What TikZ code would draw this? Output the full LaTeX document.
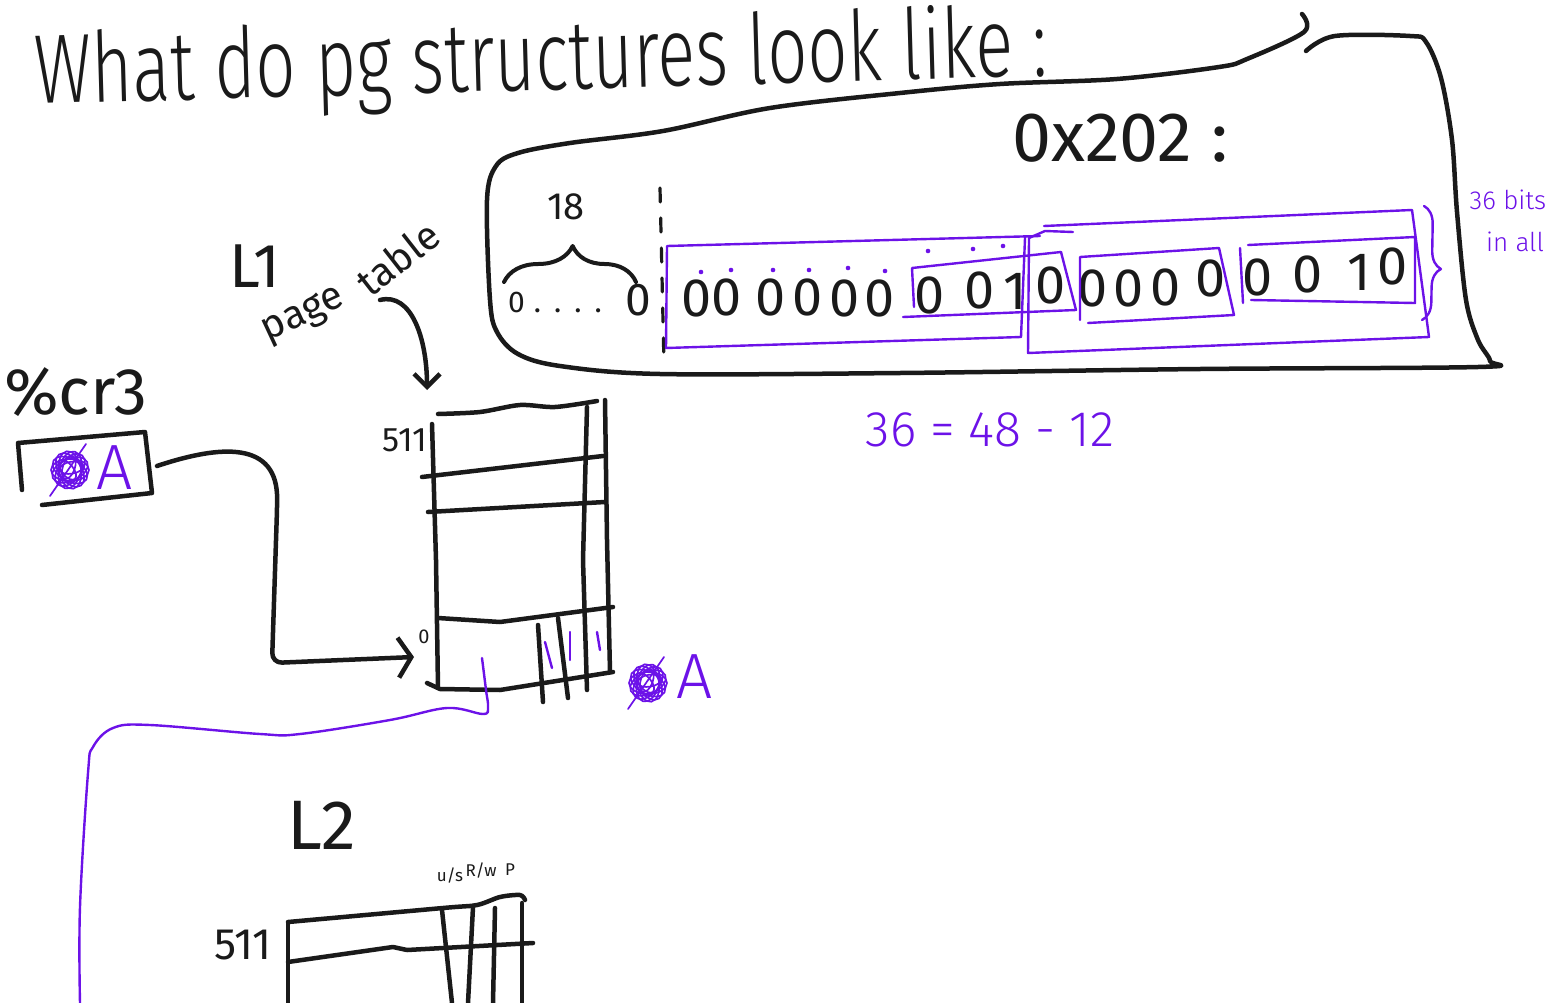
\documentclass[tikz,border=0pt]{standalone}
\usepackage{fontspec}
\setmainfont{Fira Sans}
\newfontfamily\thinhand{Fira Sans Light}
\usetikzlibrary{arrows.meta,decorations.pathreplacing}
\definecolor{ink}{RGB}{26,26,26}
\definecolor{pen}{RGB}{108,18,232}
\tikzset{
  inkline/.style={draw=ink,line width=4.5pt,line cap=round,line join=round},
  penline/.style={draw=pen,line width=2.4pt,line cap=round,line join=round},
  hand/.style={text=ink,inner sep=0pt,font=\fontsize{#1}{#1}\selectfont},
  penhand/.style={text=pen,inner sep=0pt,font=\thinhand\fontsize{#1}{#1}\selectfont},
  bit/.style={hand=54},
  pendot/.style={fill=pen,draw=none},
  barb/.style={-{Straight Barb[length=13pt,width=#1]}},
}
\newcommand{\scrawl}[1]{%
  \begin{scope}[shift={(#1)}]
  \foreach \a in {0,25,...,160}
    \draw[penline,line width=1.7pt,rotate=\a] (0,0) ellipse (19 and 11);
  \foreach \a in {10,70,130}
    \draw[penline,line width=1.7pt,rotate=\a] (2,-2) ellipse (12 and 6);
  \draw[penline,line width=1.7pt] (-20,26) -- (16,-26);
  \end{scope}}

\begin{document}
\begin{tikzpicture}[x=1pt,y=-1pt]
\useasboundingbox (0,0) rectangle (1554,1003);

\node[anchor=base west,text=ink,inner sep=0pt,rotate=1.6,font=\thinhand\fontsize{98}{98}\selectfont] (title) at (35,104)
  {\scalebox{0.72}[1]{What do pg structures look like :}};

% the box round the address
\draw[inkline] plot[smooth,tension=0.55] coordinates {(1302,14) (1304,32) (1247,59) (1219,67) (1117,79)
  (1000,84) (900,93) (770,108) (663,131) (570,143) (518,153) (496,166) (487,200) (490,300) (497,332)
  (518,354) (560,366) (660,374) (900,373) (1200,369) (1478,367) (1490,361) (1478,340) (1466,300)
  (1457,212) (1452,140) (1441,78) (1426,42) (1410,36) (1335,36) (1306,51)};
\node[hand=70,anchor=base west] (addr) at (1012,162) {0x202 :};

\node[hand=38] (eighteen) at (566,207) {18};
\draw[inkline,line width=4pt,decorate,decoration={brace,amplitude=36pt,aspect=0.52}] (504,282) -- (636,282);
\node[hand=30,anchor=base west] (lead) at (508,312) {0\hspace{9pt}.\hspace{13pt}.\hspace{13pt}.\hspace{13pt}.};
\node[hand=46] (leadend) at (638,300) {0};
\draw[inkline,line width=3.2pt,dash pattern=on 14pt off 16pt] (660,188) -- (664,365);

\foreach \x/\y/\d in {697/298/0,727/297/0,771/297/0,808/297/0,845/298/0,880/298/0,
  930/295/0,980/290/0,1015/291/1,1051/285/0,1093/288/0,1129/288/0,1166/287/0,1211/278/0,
  1258/277/0,1308/274/0,1359/272/1,1393/266/0}
  \node[bit] at (\x,\y) {\d};
\foreach \x/\y in {701/272,731/270,773/270,809/270,848/268,885/271,928/251,973/249,1003/246}
  \fill[pendot] (\x,\y) circle (2.3);

\draw[penline] (1040,236) -- (667,246) -- (666,348) -- (1021,337) -- (1025,238);
\draw[penline] (1061,252) -- (912,268) -- (914,307);
\draw[penline] (1061,252) -- (1076,310) -- (903,317);
\draw[penline] (1073,232) -- (1045,231) -- (1029,238) -- (1028,353) -- (1429,337) -- (1412,210) -- (1044,226);
\draw[penline] (1080,320) -- (1080,257) -- (1219,248) -- (1234,315) -- (1088,323);
\draw[penline] (1240,248) -- (1243,303);
\draw[penline] (1248,245) -- (1415,237) -- (1415,303) -- (1251,300);
\draw[penline,decorate,decoration={brace,amplitude=18pt,aspect=0.55}] (1424,206) -- (1422,320);
\node[penhand=26] (bits) at (1508,200) {36 bits};
\node[penhand=26] (inall) at (1515,242) {in all};
\node[penhand=50] (sum) at (990,430) {36 = 48 - 12};

% cr3
\node[hand=66,anchor=base west] (cr) at (4,414) {\%cr3};
\draw[inkline] (22,490) -- (18,443) -- (145,432) -- (152,493) -- (42,505);
\scrawl{70,470}
\node[penhand=64] (crA) at (115,468) {A};
\coordinate (crout) at (157,466);

% L1
\node[hand=62] (lone) at (255,266) {L1};
\node[hand=40,rotate=25] (pg) at (304,316) {page};
\node[hand=40,rotate=38] (tab) at (398,258) {table};
\coordinate (tabtop) at (427,390);
\draw[inkline,barb=26pt] (380,300) .. controls (412,292) and (427,340) .. (tabtop);
\node[hand=34] (lhi) at (405,440) {511};
\node[hand=20] (llo) at (424,637) {0};
\draw[inkline] plot[smooth] coordinates {(438,414) (480,412) (520,405) (555,407) (597,401)};
\draw[inkline] (432,424) -- (436,560) -- (438,688);
\draw[inkline] (427,683) -- (440,689) -- (500,690) -- (613,672);
\draw[inkline] (587,407) -- (583,560) -- (587,690);
\draw[inkline] (605,400) -- (607,540) -- (610,672);
\draw[inkline] (422,477) -- (603,456);
\draw[inkline] (428,512) -- (605,502);
\draw[inkline] (438,618) -- (500,622) -- (613,607);
\draw[inkline] (538,625) -- (543,702);
\draw[inkline] (558,618) -- (568,698);
\draw[penline] (545,642) -- (552,668);
\draw[penline] (570,632) -- (570,660);
\draw[penline] (597,632) -- (600,650);
\scrawl{648,683}
\node[penhand=64] (ptA) at (695,677) {A};
\coordinate (rowzero) at (414,657);
\draw[inkline,barb=40pt,rounded corners=10pt] (crout) .. controls (220,445) and (278,440) .. (277,510)
  -- (272,663) -- (rowzero);

% to L2
\coordinate (lonep) at (482,658);
\coordinate (ltwop) at (80,1003);
\draw[penline] plot[smooth,tension=0.6] coordinates {(lonep) (486,690) (488,707) (483,714) (447,708)
  (390,720) (300,734) (260,734) (150,725) (113,728) (93,747) (88,773) (80,907) (ltwop)};

% L2
\node[hand=70] (ltwo) at (322,825) {L2};
\node[hand=44] (l2hi) at (243,945) {511};
\node[hand=17] (us) at (450,876) {u/s};
\node[hand=17] (rw) at (481,871) {R/w};
\node[hand=17] (pr) at (510,870) {P};
\draw[inkline] plot[smooth,tension=0.5] coordinates {(288,922) (443,908) (477,905) (500,897) (520,895) (525,900)};
\draw[inkline] (288,923) -- (288,1003);
\draw[inkline] (288,962) -- (393,947) -- (407,950) -- (533,943);
\draw[inkline] (442,910) -- (452,1003);
\draw[inkline] (473,907) -- (468,1003);
\draw[inkline] (495,908) -- (493,1003);
\draw[inkline] (522,903) -- (522,1003);
\end{tikzpicture}
\end{document}
